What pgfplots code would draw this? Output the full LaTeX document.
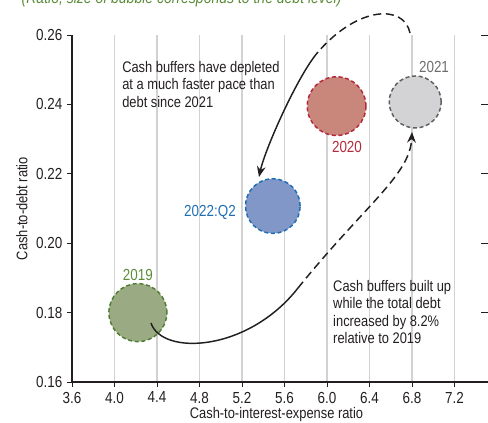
\documentclass[border=0pt]{standalone}
\usepackage{fontspec}
\setmainfont{Liberation Sans}[FakeStretch=0.84]
\usepackage{pgfplots}
\pgfplotsset{compat=1.18}
\usetikzlibrary{arrows.meta}
\definecolor{txt}{HTML}{231F20}
\definecolor{gfill}{HTML}{9AAA82}
\definecolor{gline}{HTML}{4F7D33}
\definecolor{glab}{HTML}{5B8C3A}
\definecolor{rfill}{HTML}{C9867A}
\definecolor{rline}{HTML}{B5283C}
\definecolor{kfill}{HTML}{D3D3D5}
\definecolor{kline}{HTML}{5F5F5F}
\definecolor{klab}{HTML}{6D6D6D}
\definecolor{bfill}{HTML}{8097C8}
\definecolor{bline}{HTML}{1F6DB3}

\begin{document}
\begin{tikzpicture}
\begin{axis}[
  name=main,
  scale only axis,
  width=312pt, height=260.25pt,
  xmin=3.6, xmax=7.515, ymin=0.16, ymax=0.26,
  axis x line*=bottom, axis y line*=left,
  xtick={3.6,4.0,4.4,4.8,5.2,5.6,6.0,6.4,6.8,7.2},
  ytick={0.16,0.18,0.20,0.22,0.24,0.26},
  xticklabel style={inner sep=1pt, yshift=-2.5pt, /pgf/number format/.cd,fixed,fixed zerofill,precision=1},
  yticklabel style={/pgf/number format/.cd,fixed,fixed zerofill,precision=2},
  /pgf/number format/assume math mode=true,
  tick align=outside, major tick length=3.75pt,
  tick style={txt, line width=0.7pt},
  xmajorgrids, grid style={gray!35, line width=0.8pt},
  axis line style={txt, line width=0.8pt},
  clip=false,
  font=\fontsize{12}{14}\selectfont,
  every tick label/.append style={text=txt},
  xlabel={Cash-to-interest-expense ratio},
  ylabel={Cash-to-debt ratio},
  every axis x label/.style={at={(axis description cs:0.4916,0)}, yshift=-24.75pt, anchor=center, inner sep=1pt, text=txt, font=\fontsize{11.5}{13}\selectfont},
  every axis y label/.style={at={(axis description cs:0,0.5)}, xshift=-37.5pt, rotate=90, anchor=center, inner sep=1pt, text=txt, font=\fontsize{11.5}{13}\selectfont},
]
% bubbles
\addplot[only marks, mark=*, mark size=21.75pt, mark options={fill=gfill, draw=gline, line width=1.1pt, dash pattern=on 3pt off 2pt}] coordinates {(4.22,0.18)};
\addplot[only marks, mark=*, mark size=22pt, mark options={fill=rfill, draw=rline, line width=1.1pt, dash pattern=on 3pt off 2pt}] coordinates {(6.09,0.2395)};
\addplot[only marks, mark=*, mark size=19.5pt, mark options={fill=kfill, draw=kline, line width=1.1pt, dash pattern=on 3pt off 2pt}] coordinates {(6.83,0.2407)};
\addplot[only marks, mark=*, mark size=20.5pt, mark options={fill=bfill, draw=bline, line width=1.1pt, dash pattern=on 3pt off 2pt}] coordinates {(5.49,0.2107)};

% bubble labels
\node[text=glab] at (axis cs:4.22,0.1908) {2019};
\node[text=rline] at (axis cs:6.188,0.2277) {2020};
\node[text=klab] at (axis cs:7.007,0.2508) {2021};
\node[text=bline] at (axis cs:4.899,0.2090) {2022:Q2};

% annotations
\node[anchor=north west, align=left, inner sep=0pt, text=txt, font=\fontsize{11.5}{13}\selectfont] at (axis cs:4.0706,0.2525)
  {Cash buffers have depleted\\at a much faster pace than\\debt since 2021};
\node[anchor=north west, align=left, inner sep=0pt, text=txt, font=\fontsize{11.5}{13}\selectfont] at (axis cs:6.056,0.18939)
  {Cash buffers built up\\while the total debt\\increased by 8.2\%\\relative to 2019};
\end{axis}

\begin{axis}[
  at={(main.south west)}, anchor=south west,
  scale only axis,
  width=312pt, height=260.25pt,
  xmin=3.6, xmax=7.515, ymin=0.16, ymax=0.26,
  axis x line=none, axis y line*=right,
  axis line style={draw=none},
  ytick={0.16,0.18,0.20,0.22,0.24,0.26},
  yticklabels={},
  tick align=inside, major tick length=5.25pt,
  tick style={txt, line width=0.7pt},
]
\end{axis}

% arrows, drawn in a pixel-like frame on the axis
\begin{scope}[shift={(main.south west)}, xshift=-54pt, yshift=286.5pt, x=0.75pt, y=-0.75pt]
  % 2021 -> 2022:Q2
  \draw[txt, line width=1.1pt, dash pattern=on 6pt off 3.5pt]
    (410,33) .. controls (404,4) and (358,6) .. (318,52);
  \draw[txt, line width=1.1pt, -{Stealth[length=8pt,width=6.5pt]}]
    (318,52) .. controls (298,75) and (265,149) .. (259,177);
  % 2019 -> 2021
  \draw[txt, line width=1.1pt]
    (151,323) .. controls (162,356) and (248,352) .. (298,288);
  \draw[txt, line width=1.1pt, dash pattern=on 6pt off 3.5pt, -{Stealth[length=8pt,width=6.5pt]}]
    (298,288) .. controls (365,205) and (410,175) .. (412,132);
\end{scope}

\node[anchor=base west, text=glab, font=\itshape\fontsize{12.5}{14}\selectfont] at ([shift={(-41.25pt,283.5pt)}]main.south west)
  {(Ratio; size of bubble corresponds to the debt level)};

\pgfresetboundingbox
\useasboundingbox ([shift={(-54pt,-30pt)}]main.south west) rectangle ([shift={(0pt,26.25pt)}]main.north east);
\end{tikzpicture}
\end{document}
